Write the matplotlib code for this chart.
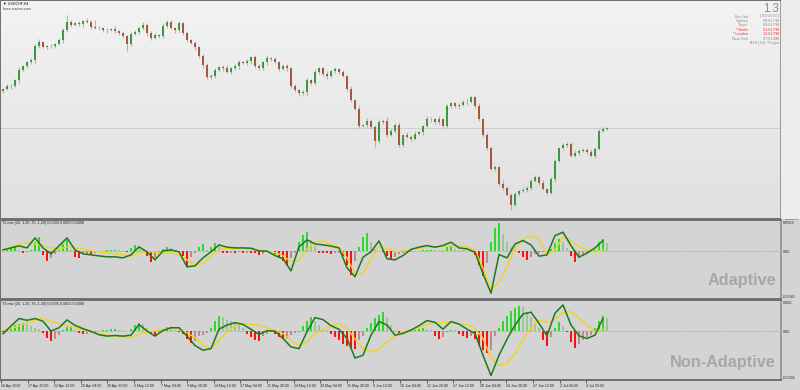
import numpy as np
import matplotlib.pyplot as plt
from matplotlib.colors import LinearSegmentedColormap
from matplotlib.patches import Rectangle
import matplotlib.transforms as mtransforms

W, H = 800, 390

# USDCHF H4 closes (every other bar)
closes = [1.0029, 1.0037, 1.0039, 1.0053, 1.0080, 1.0091, 1.0102, 1.0107, 1.0145, 1.0156, 1.0142, 1.0145, 1.0145, 1.0150, 1.0161, 1.0188,
          1.0210, 1.0202, 1.0207, 1.0204, 1.0212, 1.0210, 1.0196, 1.0193, 1.0193, 1.0188, 1.0188, 1.0191, 1.0185, 1.0180, 1.0172, 1.0150,
          1.0177, 1.0183, 1.0193, 1.0202, 1.0180, 1.0166, 1.0175, 1.0172, 1.0199, 1.0210, 1.0193, 1.0188, 1.0207, 1.0180, 1.0161, 1.0153,
          1.0142, 1.0118, 1.0093, 1.0061, 1.0066, 1.0080, 1.0088, 1.0085, 1.0075, 1.0085, 1.0091, 1.0102, 1.0099, 1.0104, 1.0115, 1.0091,
          1.0085, 1.0102, 1.0112, 1.0110, 1.0102, 1.0083, 1.0091, 1.0085, 1.0037, 1.0026, 1.0018, 1.0021, 1.0053, 1.0045, 1.0075, 1.0085,
          1.0069, 1.0064, 1.0077, 1.0083, 1.0075, 1.0064, 1.0031, 0.9999, 0.9977, 0.9931, 0.9934, 0.9945, 0.9929, 0.9891, 0.9940, 0.9945,
          0.9907, 0.9918, 0.9934, 0.9878, 0.9907, 0.9902, 0.9896, 0.9910, 0.9913, 0.9931, 0.9950, 0.9948, 0.9940, 0.9948, 0.9931, 0.9983,
          0.9991, 0.9983, 0.9988, 0.9994, 0.9996, 1.0007, 0.9985, 0.9950, 0.9905, 0.9872, 0.9815, 0.9820, 0.9775, 0.9764, 0.9745, 0.9718,
          0.9748, 0.9756, 0.9759, 0.9764, 0.9783, 0.9794, 0.9778, 0.9761, 0.9751, 0.9788, 0.9837, 0.9872, 0.9878, 0.9883, 0.9851, 0.9859,
          0.9864, 0.9867, 0.9861, 0.9851, 0.9869, 0.9918, 0.9923, 0.9925]
first_open = 1.0025
# wick lengths in pips
wick_up = [4, 6, 3, 5, 8, 4, 3, 6, 5, 9, 4, 3, 5, 4, 6, 7,
           18, 5, 4, 6, 3, 8, 5, 20, 6, 3, 5, 4, 7, 3, 5, 4,
           6, 5, 3, 8, 4, 5, 6, 3, 7, 6, 5, 4, 6, 3, 5, 4,
           6, 3, 5, 8, 4, 6, 3, 5, 9, 4, 6, 5, 3, 7, 4, 5,
           6, 4, 8, 3, 5, 4, 6, 5, 3, 7, 4, 5, 6, 3, 8, 4,
           5, 9, 4, 6, 3, 5, 4, 7, 5, 6, 3, 8, 4, 5, 6, 3,
           10, 4, 5, 6, 3, 8, 4, 6, 5, 3, 7, 4, 5, 8, 3, 6,
           4, 5, 3, 7, 6, 4, 5, 8, 3, 6, 4, 5, 3, 9, 4, 6,
           5, 3, 8, 4, 6, 5, 3, 7, 4, 5, 6, 3, 8, 4, 5, 6,
           4, 5, 3, 7, 6, 4, 5, 3]
wick_dn = [5, 3, 6, 4, 7, 3, 5, 4, 8, 5, 3, 6, 4, 5, 3, 7,
           4, 6, 3, 5, 8, 4, 6, 3, 5, 4, 7, 3, 5, 6, 4, 18,
           5, 3, 6, 4, 7, 5, 3, 6, 4, 5, 3, 7, 4, 6, 5, 3,
           8, 4, 6, 3, 5, 7, 4, 6, 3, 5, 4, 8, 3, 5, 6, 4,
           5, 3, 7, 4, 6, 5, 3, 8, 4, 5, 6, 3, 7, 4, 5, 6,
           3, 8, 4, 5, 6, 3, 7, 5, 4, 6, 3, 5, 4, 16, 5, 3,
           6, 4, 7, 3, 5, 4, 6, 3, 5, 8, 4, 6, 3, 5, 4, 7,
           3, 5, 6, 4, 8, 3, 5, 6, 4, 7, 3, 5, 6, 5, 4, 14,
           3, 6, 4, 7, 5, 3, 6, 4, 5, 3, 7, 4, 6, 5, 3, 4,
           6, 3, 5, 4, 7, 3, 5, 4]

# indicator values, units of 0.0001
ada_hist = [0.5, 1.5, 3.5, 5.5, 1.0, -1.5, -0.8, 1.5, 8.0, 12.0, -3.0, -8.0, -6.0, -2.0, 1.0, 6.0,
            9.5, 1.0, -4.5, -5.5, -2.5, -2.0, -2.0, -1.5, -0.5, 0.5, 0.8, 1.0, 1.2, 1.0, 0.5, -0.5,
            3.0, 5.6, 4.0, 1.0, -4.0, -9.5, -6.0, -1.5, 2.0, 3.9, 3.0, 0.8, -0.5, -4.0, -13.0, -5.0,
            -1.0, 4.0, 6.0, 1.0, 4.0, 7.5, 5.0, -1.0, -1.2, -1.0, -1.0, -0.8, -1.2, -1.0, -1.0, -1.5,
            -3.0, -2.5, -0.5, 0.3, -2.0, -5.0, -8.0, -11.5, -6.0, -1.0, 8.0, 14.0, 17.0, 10.0, 5.0, -1.0,
            -1.5, -1.5, -2.0, -1.5, -1.0, -4.0, -12.0, -20.0, -8.0, 4.0, 12.0, 15.5, 8.0, 2.0, 0.5, -0.5,
            -4.0, -7.5, -5.0, -2.0, -1.5, -1.0, -0.5, 0.3, 0.5, 1.0, 1.5, 1.5, 1.2, 1.0, 0.8, 3.5,
            5.0, 2.0, 1.0, 0.8, 0.5, 0.3, -3.0, -12.0, -21.0, -10.0, 8.0, 20.0, 24.5, 15.0, 8.0, 4.0,
            1.5, -1.0, -4.5, -7.0, -5.0, -2.5, -1.0, -0.5, 0.5, 2.0, 7.0, 11.0, 8.0, 3.0, -4.0, -9.0,
            -6.0, -3.0, -1.5, -0.5, 1.5, 8.0, 11.0, 7.0]
ada_fast = [1.3, 3.0, 4.7, 3.0, 11.6, 3.0, -2.1, 4.7, 11.6, 1.3, -2.1, -3.0, -3.9, -4.7, -4.7, -5.6,
            -3.0, 3.9, -0.4, -7.3, 0.4, 1.3, -0.4, -13.3, -12.5, -5.6, -0.4, 5.6, 3.6, 3.0, 3.0, 2.7,
            0.4, 0.2, -3.6, -6.4, -16.8, 3.9, 9.9, 6.4, 5.6, 4.5, 3.0, -14.2, -21.9, -5.0, -0.4, 9.0,
            -6.4, -7.3, -3.6, 1.7, 3.6, 5.0, 3.6, 5.0, 7.9, 3.0, 2.1, -0.7, -19.3, -36.0, -2.7, -5.6,
            6.4, 9.3, 5.6, -4.1, -3.0, 13.6, 16.5, 5.0, -5.0, -1.5, 3.0, 9.3]
ada_slow = [1.3, 3.9, 6.4, 7.3, 6.4, 4.7, 3.0, 2.1, 3.9, 3.0, 2.1, 0.4, -0.4, -1.3, -2.1, -3.0,
            -3.9, -1.3, -0.4, -0.4, -1.3, -1.3, -3.0, -7.3, -11.6, -10.7, -3.9, 1.5, 2.6, 2.4, 2.1, 1.9,
            1.5, 0.2, -0.9, -3.9, -9.0, -7.3, 2.1, 8.2, 9.0, 6.0, 3.4, -5.6, -19.3, -19.3, -6.4, 3.9,
            2.6, -0.4, 0.4, 1.7, 2.7, 3.6, 3.9, 4.5, 4.7, 5.0, 3.9, 1.3, -14.4, -33.0, -26.2, -13.3,
            3.0, 10.7, 13.6, 9.9, -3.0, 1.3, 12.2, 9.0, 3.9, 1.3, -0.7, 1.3]

non_hist = [-1.0, 0.5, 2.0, 3.5, 4.5, 5.2, 4.5, 3.0, 2.0, 1.0, -1.5, -4.5, -6.5, -5.0, -2.5, 0.5,
            2.5, 3.1, 0.5, -1.5, -2.2, -1.8, -1.5, -1.0, -0.3, 0.3, 0.8, 1.0, 1.0, 0.8, 0.5, -0.3,
            1.5, 3.5, 5.2, 4.5, 2.0, -2.0, -3.2, -1.0, 1.0, 2.4, 2.0, 0.8, -0.5, -2.0, -5.0, -7.5,
            -6.4, -3.2, -2.5, -1.5, 2.0, 6.0, 9.6, 8.5, 7.0, 6.0, 5.0, 4.3, 2.0, -2.0, -4.0, -5.5,
            -6.4, -3.0, -2.0, -1.0, -2.0, -4.0, -5.3, -5.0, -2.5, -1.5, -0.5, 3.0, 6.5, 8.5, 6.0, 3.5,
            1.5, 0.3, -2.0, -4.0, -6.0, -8.0, -9.5, -11.0, -11.7, -6.0, -3.0, 2.0, 5.0, 8.0, 10.0, 11.7,
            9.0, 4.0, 0.5, -2.1, -1.5, -0.5, 0.3, 0.8, 1.5, 1.7, 1.5, 0.5, -3.0, -5.3, -4.0, -0.5,
            0.8, 0.3, -2.0, -3.5, -4.3, -3.5, -5.0, -9.0, -12.0, -13.8, -12.0, -3.0, 2.0, 6.0, 9.5, 12.5,
            14.5, 15.9, 15.0, 12.0, 9.0, 5.0, 2.0, -6.0, -9.6, -4.0, 2.0, 5.3, 3.0, -1.0, -7.0, -10.6,
            -8.0, -6.0, -4.0, -2.5, 2.0, 6.0, 9.6, 8.0]
non_fast = [-1.8, 3.1, 7.8, 6.7, 7.8, 6.1, -0.1, 2.0, 6.9, 3.5, 1.4, -0.3, -2.4, -3.3, -2.9, -3.3,
            -2.7, 4.1, -0.1, -3.3, 0.3, 2.0, 2.0, -3.3, -9.2, -12.2, -11.2, 1.1, 3.7, 5.2, 4.1, 1.0,
            -2.2, 0.1, -0.1, -4.8, -10.1, -11.2, -0.5, 8.4, 7.1, 3.3, 1.0, -4.8, -17.1, -15.4, -2.7, 5.9,
            3.7, -2.7, -1.6, 0.5, 3.3, 6.5, 5.4, 1.1, 5.9, 4.3, 1.1, -1.6, -15.4, -28.2, -15.4, -5.2,
            3.7, 10.7, 11.8, 4.8, -3.1, 11.2, 16.4, 3.7, -3.1, -4.8, -2.7, 8.0]
non_slow = [0.3, 1.6, 3.1, 5.2, 6.9, 7.8, 5.9, 4.6, 3.1, 2.0, 0.5, -0.5, -2.0, -2.7, -3.3, -3.7,
            -4.0, -2.2, -0.8, -0.1, 1.0, 2.0, 1.1, -1.1, -4.3, -9.1, -11.2, -5.9, -0.5, 3.1, 4.8, 4.1,
            3.7, 2.0, 0.1, -1.6, -6.2, -9.1, -6.9, -1.6, 1.1, 3.3, 4.6, 1.6, -5.2, -11.2, -13.3, -11.8,
            -6.9, -3.1, -0.5, 0.5, 2.0, 4.1, 5.0, 5.4, 5.0, 4.6, 4.0, 1.6, -4.8, -17.1, -21.8, -20.7,
            -14.3, -5.9, 2.0, 6.7, 5.4, 7.5, 11.8, 12.2, 8.0, 3.7, -0.5, 1.1]

price_ticks = [1.02420, 1.02050, 1.01670, 1.01300, 1.00930, 1.00550, 1.00180, 0.99810,
               0.99440, 0.99060, 0.98690, 0.98320, 0.97950, 0.97570, 0.97200, 0.96830]
date_labels = ['16 Apr 2019', '17 Apr 20:00', '22 Apr 12:00', '25 Apr 04:00', '29 Apr 20:00',
               '2 May 12:00', '7 May 04:00', '9 May 20:00', '14 May 12:00', '17 May 04:00',
               '21 May 20:00', '24 May 12:00', '29 May 04:00', '31 May 20:00', '5 Jun 12:00',
               '10 Jun 04:00', '12 Jun 20:00', '17 Jun 12:00', '20 Jun 04:00', '24 Jun 20:00',
               '27 Jun 12:00', '2 Jul 04:00', '4 Jul 20:00']
info_names = ['Bar Left', 'Sydney', 'Tokyo', '* Berlin', '* London', 'New York']
info_values = ['[ 01:58:53 ]', '09:01 PM', '08:01 PM', '01:01 PM', '12:01 PM', '07:01 AM']
info_marked = [False, False, False, True, True, False]


def px(x, y):
    return x / W, 1 - y / H


def rect(x0, y0, x1, y1):
    return [x0 / W, 1 - y1 / H, (x1 - x0) / W, (y1 - y0) / H]


def hist_colors(vals, up, up_pale, dn, dn_pale):
    out = []
    prev = 0.0
    for v in vals:
        if v >= 0:
            out.append(up if v >= prev else up_pale)
        else:
            out.append(dn if v <= prev else dn_pale)
        prev = v
    return out


fig = plt.figure(figsize=(8, 3.9), dpi=100, facecolor='#d4d4d4')
fig.patches.append(Rectangle(px(781, 219), 19 / W, 219 / H, transform=fig.transFigure,
                             facecolor='#ececec', edgecolor='none', zorder=0))

ax1 = fig.add_axes(rect(0, 0, 781, 219))
ax2 = fig.add_axes(rect(0, 220, 781, 299))
ax3 = fig.add_axes(rect(0, 300, 781, 380))
xl = (-0.75, 194.5)

# ---- price pane ----
n = len(closes)
idx = np.arange(n)
c = np.array(closes)
o = np.array([first_open] + closes[:-1])
top = np.maximum(o, c)
bot = np.minimum(o, c)
hi = top + np.array(wick_up) * 1e-4
lo = bot - np.array(wick_dn) * 1e-4
body_col = np.where(c >= o, '#3c9a3c', '#a5583a')

ylo, yhi = 0.96804, 1.0269
grad = LinearSegmentedColormap.from_list('bg', ['#f3f3f3', '#e0e0e0'])
ax1.imshow(np.linspace(0, 1, 200).reshape(-1, 1), cmap=grad, aspect='auto', origin='upper',
           extent=[xl[0], xl[1], ylo, yhi], zorder=0)
ax1.axhline(c[-1], color='#c8c8c8', lw=0.6, zorder=1)
ax1.vlines(idx, lo, hi, color='#a3b9a3', lw=0.8, zorder=2)
ax1.bar(idx, np.maximum(top - bot, 0.00008), bottom=bot, width=0.55, color=body_col,
        linewidth=0, zorder=3)
ax1.set_xlim(xl)
ax1.set_ylim(ylo, yhi)
ax1.yaxis.tick_right()
ax1.set_yticks(price_ticks)
ax1.set_yticklabels([f'{p:.5f}' for p in price_ticks], family='Liberation Sans')
ax1.tick_params(axis='y', length=2, width=0.5, pad=1, labelsize=2.7, colors='#222222')
ax1.set_xticks([])
trans = mtransforms.blended_transform_factory(ax1.transAxes, ax1.transData)
ax1.text(1.002, c[-1], f'{c[-1]:.5f}', transform=trans, ha='left', va='center', fontsize=2.7,
         family='Liberation Sans', color='white',
         bbox=dict(facecolor='black', edgecolor='none', pad=0.6), clip_on=False)

# ---- indicator panes ----
line_idx = idx[::2]
panes = [(ax2, ada_hist, ada_fast, ada_slow, (-41, 27)),
         (ax3, non_hist, non_fast, non_slow, (-31, 19.5))]
for ax, hist, fast, slow, yl in panes:
    ax.set_facecolor('#d4d4d4')
    ax.axhline(0, color='#8a8a8a', lw=0.5, ls=(0, (1, 1.5)), zorder=1)
    cols = hist_colors(hist, '#2fd82f', '#9fc49a', '#ff1010', '#c08a8a')
    ax.bar(idx, hist, width=0.65, color=cols, linewidth=0, zorder=2)
    ax.plot(line_idx, slow, color='#f2d418', lw=1.0, zorder=3, solid_joinstyle='round')
    ax.plot(line_idx, fast, color='#1c7a1c', lw=1.1, zorder=4, solid_joinstyle='round')
    ax.set_xlim(xl)
    ax.set_ylim(yl)
    ax.set_yticks([])

ax2.set_xticks([])
tick_pos = np.arange(len(date_labels)) * 6.65 - 0.5
ax3.set_xticks(tick_pos)
ax3.set_xticklabels(date_labels, ha='left', family='Liberation Sans')
ax3.tick_params(axis='x', length=2, width=0.5, pad=0.8, labelsize=2.6, colors='#222222')

for ax in (ax1, ax2, ax3):
    for side in ('left', 'top', 'bottom'):
        ax.spines[side].set_color('#6f6f6f')
        ax.spines[side].set_linewidth(1.4)
    ax.spines['right'].set_color('#9a9a9a')
    ax.spines['right'].set_linewidth(1.4)

# ---- texts ----
small = dict(fontsize=2.7, family='Liberation Sans')
fig.text(*px(3, 4), '\u25bc USDCHF,H4', color='#111111', va='center',
         fontsize=2.7, family=['Liberation Sans', 'DejaVu Sans'])
fig.text(*px(3, 9), 'forex-station.com', color='#444444', va='center', **small)

fig.text(*px(779, 11.5), '1.3', ha='right', va='baseline', fontsize=8.3, color='#8c8c8c',
         family='Liberation Sans')
for k, (name, val, mark) in enumerate(zip(info_names, info_values, info_marked)):
    y = 16.5 + k * 4.4
    col = '#ff2a2a' if mark else '#8c8c8c'
    fig.text(*px(748, y), name, ha='right', va='center', color=col, **small)
    fig.text(*px(779, y), val, ha='right', va='center', color=col, **small)
fig.text(*px(779, 43), 'ATR (20): 37 pips', ha='right', va='center', color='#8c8c8c', **small)

fig.text(*px(2, 223.5), 'T3 mtv (20, 1.20, 35, 1.20) 0.0004 0.0003 0.0008', va='center',
         color='#222222', **small)
fig.text(*px(2, 303.5), 'T3 mtv (20, 1.20, 35, 1.20) 0.0005 0.0001 0.0008', va='center',
         color='#222222', **small)

for label, y in [('0.0026', 222.5), ('0.00', 252), ('-0.0041', 297),
                 ('0.002', 302.5), ('0.00', 332), ('-0.0031', 378)]:
    fig.text(*px(783, y), label, va='center', color='#222222', **small)

fig.text(*px(776, 285.5), 'Adaptive', ha='right', va='baseline', fontsize=11.7,
         fontweight='bold', color='#a7a7a7', family='Liberation Sans')
fig.text(*px(776, 366.5), 'Non-Adaptive', ha='right', va='baseline', fontsize=11.7,
         fontweight='bold', color='#a7a7a7', family='Liberation Sans')

fig.savefig('out.png', dpi=100, facecolor=fig.get_facecolor())
